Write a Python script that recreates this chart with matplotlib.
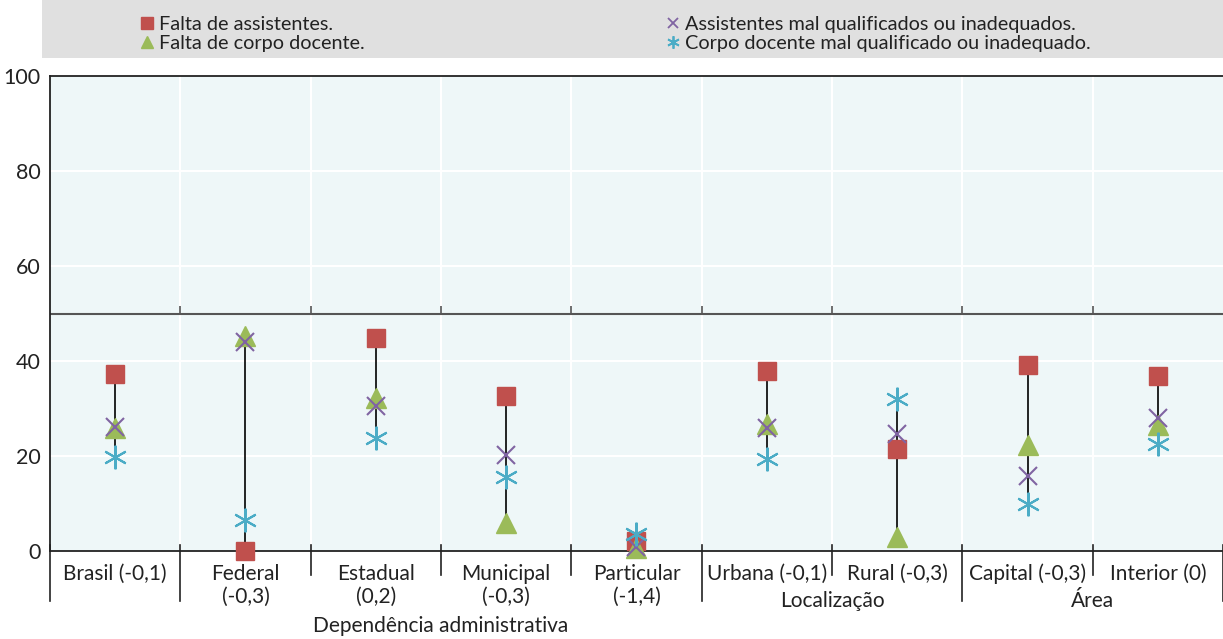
import matplotlib
matplotlib.use("Agg")
import matplotlib.pyplot as plt
from matplotlib.patches import Rectangle
from matplotlib.lines import Line2D

plt.rcParams['font.family'] = ['Lato', 'DejaVu Sans']

# categories and values (%)
categories = ["Brasil (-0,1)", "Federal\n(-0,3)", "Estadual\n(0,2)", "Municipal\n(-0,3)",
              "Particular\n(-1,4)", "Urbana (-0,1)", "Rural (-0,3)", "Capital (-0,3)", "Interior (0)"]
falta_assist = [37.3, 0.0, 44.8, 32.6, 2.1, 37.9, 21.5, 39.2, 36.8]
falta_docente = [25.9, 45.3, 32.2, 5.9, 0.6, 26.7, 3.0, 22.3, 26.5]
assist_mal = [26.1, 44.0, 30.5, 20.2, 0.8, 25.9, 24.6, 15.8, 28.0]
docente_mal = [19.8, 6.5, 23.8, 15.6, 3.6, 19.4, 32.0, 9.9, 22.5]

groups = ["Dependência administrativa", "Localização", "Área"]

c_red = "#c0504d"
c_green = "#9bbb59"
c_purple = "#8064a2"
c_cyan = "#4bacc6"
asterisk = (6, 2, 0)
txt = "#222222"

fig = plt.figure(figsize=(12.23, 6.39), dpi=100)
ax = fig.add_axes([50/1223, 88/639, 1 - 50/1223, 475/639])
ax.set_facecolor("#eef7f8")

n = len(categories)
xs = list(range(n))

# grid
for y in [20, 40, 60, 80]:
    ax.axhline(y, color="white", lw=1.5, zorder=1)
for i in range(1, n):
    ax.axvline(i - 0.5, color="white", lw=1.5, zorder=1)
ax.axhline(50, color="#555555", lw=1.5, zorder=2)
ax.vlines([i - 0.5 for i in range(1, n)], 50, 51.5, color="#555555", lw=1.2, zorder=2)

# range lines
for i in xs:
    vals = [falta_assist[i], falta_docente[i], assist_mal[i], docente_mal[i]]
    ax.plot([i, i], [min(vals), max(vals)], color="black", lw=1.2, zorder=3)

ax.plot(xs, falta_assist, ls="none", marker="s", ms=13, color=c_red, zorder=4, clip_on=False)
ax.plot(xs, falta_docente, ls="none", marker="^", ms=14, color=c_green, zorder=5, clip_on=False)
ax.plot(xs, assist_mal, ls="none", marker="x", ms=13, mew=1.5, color=c_purple, zorder=6, clip_on=False)
ax.plot(xs, docente_mal, ls="none", marker=asterisk, ms=17, mew=1.5, color=c_cyan, zorder=7, clip_on=False)

ax.set_xlim(-0.5, n - 0.5)
ax.set_ylim(0, 100)
ax.set_yticks([0, 20, 40, 60, 80, 100])
ax.tick_params(axis="y", labelsize=15.5, length=0, pad=7, colors=txt)
ax.set_xticks(xs)
ax.set_xticklabels(categories, fontsize=15, color=txt, linespacing=1.2)
ax.tick_params(axis="x", length=0, pad=9)
for s in ["left", "bottom", "top"]:
    ax.spines[s].set_color(txt)
    ax.spines[s].set_linewidth(1.3)
ax.spines["right"].set_visible(False)

# separators below the axis
tr = ax.get_xaxis_transform()
long_b = [-0.5, 0.5, 4.5, 6.5, 8.5]
short_b = [1.5, 2.5, 3.5, 5.5, 7.5]
for b in long_b:
    ax.plot([b, b], [0.012, -0.105], color=txt, lw=1.2, transform=tr, clip_on=False)
for b in short_b:
    ax.plot([b, b], [0.012, -0.05], color=txt, lw=1.2, transform=tr, clip_on=False)

ax.text(2.5, -0.157, groups[0], transform=tr, ha="center", va="center", fontsize=15, color=txt)
ax.text(5.5, -0.105, groups[1], transform=tr, ha="center", va="center", fontsize=15, color=txt)
ax.text(7.5, -0.105, groups[2], transform=tr, ha="center", va="center", fontsize=15, color=txt)

# legend box
fig.patches.append(Rectangle((42/1223, 1 - 58/639), 1 - 42/1223, 58/639,
                             transform=fig.transFigure, facecolor="#e0e0e0", edgecolor="none", zorder=0))
h1 = [Line2D([], [], ls="none", marker="s", ms=8, color=c_red),
      Line2D([], [], ls="none", marker="^", ms=8, color=c_green)]
h2 = [Line2D([], [], ls="none", marker="x", ms=7, mew=1.3, color=c_purple),
      Line2D([], [], ls="none", marker=asterisk, ms=9, mew=1.3, color=c_cyan)]
kw = dict(frameon=False, fontsize=14.3, handlelength=0.6, handletextpad=0.3,
          labelspacing=0.1, borderpad=0, loc="upper left")
leg1 = fig.legend(h1, ["Falta de assistentes.", "Falta de corpo docente."],
                  bbox_to_anchor=(131/1223, 1 - 6/639), **kw)
leg2 = fig.legend(h2, ["Assistentes mal qualificados ou inadequados.",
                       "Corpo docente mal qualificado ou inadequado."],
                  bbox_to_anchor=(657/1223, 1 - 6/639), **kw)
for leg in (leg1, leg2):
    for t in leg.get_texts():
        t.set_color(txt)

fig.savefig("out.png", dpi=100)
